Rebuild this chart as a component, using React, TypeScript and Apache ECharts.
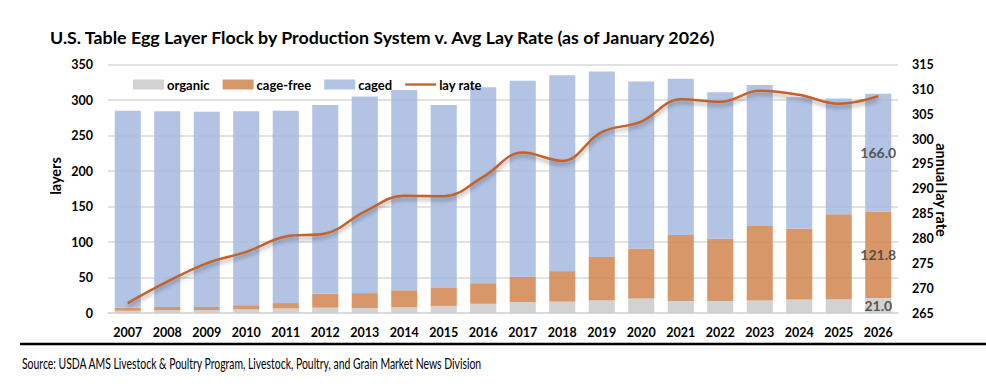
import React, { useEffect, useRef } from "react";
import * as echarts from "echarts";

const years = ["2007","2008","2009","2010","2011","2012","2013","2014","2015","2016","2017","2018","2019","2020","2021","2022","2023","2024","2025","2026"];
const organic = [3, 4, 4, 5, 6.5, 7.5, 7, 8, 10, 13, 15.5, 16, 18, 20.5, 17, 17, 17.5, 19, 19.5, 21.0];
const cageFree = [4.5, 4.5, 4.5, 6, 7.5, 19.5, 21, 24, 26, 29, 35.5, 43, 61, 70, 93, 87.7, 105, 99.7, 119.5, 121.8];
const caged = [277.5, 275.5, 275, 273, 271, 266, 277, 282, 257, 276, 276, 276, 261, 235.4, 220, 206.3, 198.5, 185.3, 163, 166.0];
const layRate = [267.0, 271.3, 275.0, 277.3, 280.4, 281.0, 285.4, 288.6, 288.5, 292.4, 297.3, 295.6, 301.4, 303.5, 308.0, 307.5, 309.7, 308.9, 307.1, 308.6];

const FONT = "Lato, 'Noto Sans', sans-serif";
const LINE_COLOR = "#c4622a";

function lastLabel(arr: number[]) {
  return arr.map((v, i) =>
    i === arr.length - 1
      ? {
          value: v,
          label: {
            show: true,
            position: "inside",
            formatter: (p: any) => Number(p.value).toFixed(1),
            color: "#404040",
            fontWeight: "bold",
            fontSize: 14,
            fontFamily: FONT,
          },
        }
      : v
  );
}

export default function App() {
  const ref = useRef<HTMLDivElement>(null);
  useEffect(() => {
    const chart = echarts.init(ref.current!, null, { renderer: "svg" });
    const tickLabel = { color: "#000", fontWeight: "bold", fontSize: 12.5, fontFamily: FONT };
    chart.setOption({
      animation: false,
      backgroundColor: "#fff",
      textStyle: { fontFamily: FONT },
      grid: { left: 108, right: 88, top: 64.5, bottom: 79, containLabel: false },
      legend: {
        left: 128,
        top: 73,
        itemWidth: 31,
        itemHeight: 10,
        itemGap: 13,
        textStyle: { color: "#000", fontWeight: "bold", fontSize: 13, fontFamily: FONT, padding: [0, 0, 0, -2] },
        data: [
          { name: "organic", icon: "rect" },
          { name: "cage-free", icon: "rect" },
          { name: "caged", icon: "rect" },
          {
            name: "lay rate",
            icon: "path://M0,0 L0,0 M0,3.8 L32,3.8 L32,6.2 L0,6.2 Z M32,10 L32,10",
            itemStyle: { color: LINE_COLOR },
          },
        ],
      },
      xAxis: {
        type: "category",
        data: years,
        axisTick: { show: false },
        axisLine: { show: true, lineStyle: { color: "#d9d9d9", width: 1.5 } },
        axisLabel: { ...tickLabel, margin: 13 },
      },
      yAxis: [
        {
          type: "value",
          min: 0,
          max: 350,
          interval: 50,
          axisLine: { show: false },
          axisTick: { show: false },
          axisLabel: { ...tickLabel, margin: 15 },
          splitLine: { lineStyle: { color: "#d9d9d9", width: 1.5 } },
        },
        {
          type: "value",
          min: 265,
          max: 315,
          interval: 5,
          axisLine: { show: false },
          axisTick: { show: false },
          axisLabel: { ...tickLabel, margin: 14 },
          splitLine: { show: false },
        },
      ],
      series: [
        {
          name: "organic",
          type: "bar",
          stack: "s",
          barWidth: "66%",
          data: lastLabel(organic),
          itemStyle: { color: "#cbcbcb", opacity: 0.87 },
        },
        {
          name: "cage-free",
          type: "bar",
          stack: "s",
          data: lastLabel(cageFree),
          itemStyle: { color: "#d28852", opacity: 0.87 },
        },
        {
          name: "caged",
          type: "bar",
          stack: "s",
          data: lastLabel(caged),
          itemStyle: { color: "#a7badf", opacity: 0.87 },
        },
        {
          name: "lay rate",
          type: "line",
          yAxisIndex: 1,
          data: layRate,
          smooth: 0.4,
          symbol: "none",
          showSymbol: false,
          z: 5,
          lineStyle: {
            color: LINE_COLOR,
            width: 2.5,
            shadowColor: "rgba(0,0,0,0.35)",
            shadowBlur: 4,
            shadowOffsetY: 3,
          },
          itemStyle: { color: LINE_COLOR },
        },
      ],
      graphic: [
        {
          type: "text",
          left: 50,
          top: 28,
          style: {
            text: "U.S. Table Egg Layer Flock by Production System v. Avg Lay Rate (as of January 2026)",
            fontSize: 17.8,
            fontWeight: "bold",
            fontFamily: FONT,
            fill: "#000",
          },
        },
        {
          type: "text",
          x: 55,
          y: 176,
          rotation: Math.PI / 2,
          style: {
            text: "layers",
            fontSize: 14.5,
            fontWeight: "bold",
            fontFamily: FONT,
            fill: "#000",
            align: "center",
            verticalAlign: "middle",
          },
        },
        {
          type: "text",
          x: 941,
          y: 190,
          rotation: -Math.PI / 2,
          style: {
            text: "annual lay rate",
            fontSize: 14.5,
            fontWeight: "bold",
            fontFamily: FONT,
            fill: "#000",
            align: "center",
            verticalAlign: "middle",
          },
        },
        {
          type: "line",
          shape: { x1: 20, y1: 344, x2: 986, y2: 344 },
          style: { stroke: "#000", lineWidth: 2.7 },
        },
        {
          type: "text",
          x: 22,
          y: 363,
          scaleX: 0.672,
          style: {
            text: "Source: USDA AMS Livestock & Poultry Program, Livestock, Poultry, and Grain Market News Division",
            fontSize: 15.5,
            fontFamily: FONT,
            fill: "#000",
            verticalAlign: "middle",
          },
        },
      ],
    });
    return () => chart.dispose();
  }, []);
  return <div ref={ref} style={{ width: 986, height: 392, position: "absolute", left: 0, top: 0 }} />;
}
